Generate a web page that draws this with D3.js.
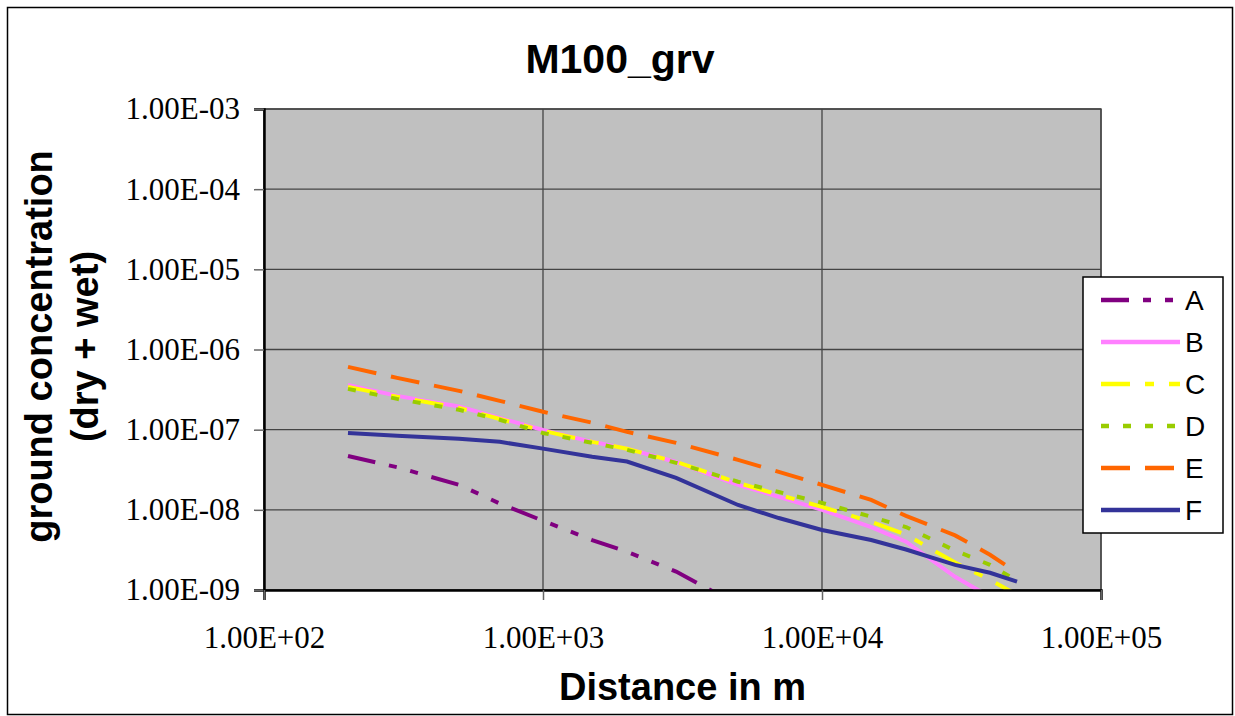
<!DOCTYPE html>
<html>
<head>
<meta charset="utf-8">
<script src="https://cdn.jsdelivr.net/npm/d3@7"></script>
<style>
    body { margin: 0; background: #fff; }
    svg { display: block; }
</style>
</head>
<body>
<div id="chart"></div>
<script>
// Distances in m
var distances = [200, 300, 500, 700, 1000, 1500, 2000, 3000, 5000, 7000, 10000, 15000, 20000, 30000, 40000, 50000];

// Ground concentration for each case
var seriesA = [4.7e-8, 3.4e-8, 2.05e-8, 1.2e-8, 7.3e-9, 4.2e-9, 3.0e-9, 1.7e-9, 6.5e-10];
var seriesB = [3.6e-7, 2.64e-7, 1.95e-7, 1.4e-7, 9.9e-8, 7.05e-8, 5.8e-8, 3.95e-8, 2.05e-8, 1.45e-8, 1.0e-8, 6.1e-9, 4.0e-9, 1.46e-9, 8.2e-10, 5.0e-10];
var seriesC = [3.42e-7, 2.57e-7, 1.87e-7, 1.36e-7, 9.7e-8, 7.05e-8, 5.77e-8, 3.97e-8, 2.17e-8, 1.54e-8, 1.09e-8, 7.1e-9, 4.9e-9, 2.2e-9, 1.34e-9, 8.7e-10];
var seriesD = [3.23e-7, 2.42e-7, 1.77e-7, 1.33e-7, 9.1e-8, 6.85e-8, 5.6e-8, 3.86e-8, 2.24e-8, 1.67e-8, 1.22e-8, 8.2e-9, 6.1e-9, 3.1e-9, 2.06e-9, 1.3e-9];
var seriesE = [6.07e-7, 4.43e-7, 3.05e-7, 2.29e-7, 1.67e-7, 1.22e-7, 9.4e-8, 6.85e-8, 4.2e-8, 2.98e-8, 2.05e-8, 1.33e-8, 8.4e-9, 4.8e-9, 2.75e-9, 1.65e-9];
var seriesF = [9.1e-8, 8.4e-8, 7.7e-8, 7.05e-8, 5.8e-8, 4.6e-8, 4.0e-8, 2.5e-8, 1.15e-8, 7.9e-9, 5.6e-9, 4.2e-9, 3.2e-9, 2.06e-9, 1.64e-9, 1.27e-9];

var seriesNames = ['A', 'B', 'C', 'D', 'E', 'F'];

// Axis ticks
var xTicks = [1e2, 1e3, 1e4, 1e5];
var yTicks = [1e-3, 1e-4, 1e-5, 1e-6, 1e-7, 1e-8, 1e-9];

// Styles for each series (Excel-ish)
var styles = {
    A: {color: '#800080', dash: '28,14,8,14,8,14'},
    B: {color: '#FF80FF', dash: null},
    C: {color: '#FFFF00', dash: '29,15,9,15'},
    D: {color: '#99CC00', dash: '8,14'},
    E: {color: '#FF6600', dash: '29,15'},
    F: {color: '#333399', dash: null}
};

var seriesData = [seriesA, seriesB, seriesC, seriesD, seriesE, seriesF];

var width = 1235, height = 716;
var margin = {'left': 264, 'right': 134, 'top': 109, 'bottom': 126};
var plotW = width - margin.left - margin.right;
var plotH = height - margin.top - margin.bottom;

var svg = d3.select('#chart').append('svg')
    .attr('width', width)
    .attr('height', height);

// Outer chart border
svg.append('rect')
    .attr('x', 7.5).attr('y', 7.5)
    .attr('width', 1225).attr('height', 707)
    .attr('fill', '#fff')
    .attr('stroke', '#000')
    .attr('stroke-width', 1.5);

var chart = svg.append('g')
    .attr('transform', 'translate(' + margin.left + ',' + margin.top + ')');

var x = d3.scaleLog().domain([1e2, 1e5]).range([0, plotW]);
var y = d3.scaleLog().domain([1e-9, 1e-3]).range([plotH, 0]);

// Plot background
chart.append('rect')
    .attr('width', plotW)
    .attr('height', plotH)
    .attr('fill', '#C0C0C0')
    .attr('stroke', '#555')
    .attr('stroke-width', 1.5);

// Gridlines
chart.append('g').selectAll('line.hgrid')
    .data(yTicks)
    .enter().append('line')
    .attr('x1', 0).attr('x2', plotW)
    .attr('y1', function(d) { return y(d); })
    .attr('y2', function(d) { return y(d); })
    .attr('stroke', '#444').attr('stroke-width', 1.3);

chart.append('g').selectAll('line.vgrid')
    .data(xTicks)
    .enter().append('line')
    .attr('y1', 0).attr('y2', plotH)
    .attr('x1', function(d) { return x(d); })
    .attr('x2', function(d) { return x(d); })
    .attr('stroke', '#444').attr('stroke-width', 1.3);

// Clip the lines to the plot area
chart.append('clipPath').attr('id', 'plotclip')
    .append('rect').attr('width', plotW).attr('height', plotH);

var line = d3.line()
    .x(function(d) { return x(d[0]); })
    .y(function(d) { return y(d[1]); });

var lines = chart.append('g').attr('clip-path', 'url(#plotclip)');

seriesNames.forEach(function(name, i) {
    var pts = seriesData[i].map(function(v, j) { return [distances[j], v]; });
    lines.append('path')
        .datum(pts)
        .attr('d', line)
        .attr('fill', 'none')
        .attr('stroke', styles[name].color)
        .attr('stroke-width', 4)
        .attr('stroke-dasharray', styles[name].dash);
});

// Axes
var fmt = function(d) {
    return d3.format('.2e')(d).replace('e', 'E').replace(/E([+-])(\d)$/, 'E$10$2');
};

var yAxis = d3.axisLeft(y).tickValues(yTicks).tickFormat(fmt).tickSize(10).tickPadding(14);
var yg = chart.append('g').call(yAxis);

var xAxis = d3.axisBottom(x).tickValues(xTicks).tickFormat(fmt).tickSize(10).tickPadding(26);
var xg = chart.append('g').attr('transform', 'translate(0,' + plotH + ')').call(xAxis);

[yg, xg].forEach(function(g) {
    g.select('.domain').attr('stroke', '#000').attr('stroke-width', 2.5);
    g.selectAll('.tick line').attr('stroke', '#666').attr('stroke-width', 1.5);
    g.selectAll('.tick text')
        .attr('fill', '#000')
        .style('font-family', '"Liberation Serif", "Times New Roman", serif')
        .style('font-size', '31px');
});

// Titles
svg.append('text')
    .attr('x', 620).attr('y', 73)
    .attr('text-anchor', 'middle')
    .style('font-family', '"Liberation Sans", Arial, sans-serif')
    .style('font-weight', 'bold')
    .style('font-size', '41px')
    .text('M100_grv');

svg.append('text')
    .attr('x', margin.left + plotW / 2).attr('y', 700)
    .attr('text-anchor', 'middle')
    .style('font-family', '"Liberation Sans", Arial, sans-serif')
    .style('font-weight', 'bold')
    .style('font-size', '38px')
    .text('Distance in m');

var ytitle = svg.append('text')
    .attr('transform', 'translate(0,' + (margin.top + plotH / 2 - 3) + ') rotate(-90)')
    .attr('text-anchor', 'middle')
    .style('font-family', '"Liberation Sans", Arial, sans-serif')
    .style('font-weight', 'bold')
    .style('font-size', '38px');
ytitle.append('tspan').attr('x', 0).attr('y', 52).text('ground concentration');
ytitle.append('tspan').attr('x', 0).attr('y', 98).text('(dry + wet)');

// Legend
var legend = svg.append('g').attr('transform', 'translate(1083,277)');
legend.append('rect')
    .attr('width', 140).attr('height', 256)
    .attr('fill', '#fff')
    .attr('stroke', '#000')
    .attr('stroke-width', 1.5);

var rows = legend.selectAll('g.row')
    .data(seriesNames)
    .enter().append('g')
    .attr('transform', function(d, i) { return 'translate(0,' + (23 + i * 42) + ')'; });

rows.append('line')
    .attr('x1', 18).attr('x2', 97)
    .attr('stroke', function(d) { return styles[d].color; })
    .attr('stroke-width', 4.5)
    .attr('stroke-dasharray', function(d) { return styles[d].dash; });

rows.append('text')
    .attr('x', 102).attr('y', 10)
    .style('font-family', '"Liberation Sans", Arial, sans-serif')
    .style('font-size', '28px')
    .text(function(d) { return d; });
</script>
</body>
</html>
